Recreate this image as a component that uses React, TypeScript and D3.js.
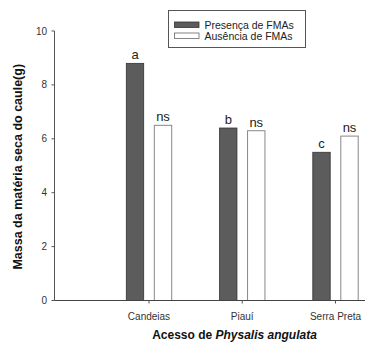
import React from "react";
import * as d3 from "d3";

const categories = ["Candeias", "Piauí", "Serra Preta"];
const presenca = [8.8, 6.4, 5.5];
const ausencia = [6.5, 6.3, 6.1];
const presencaLetters = ["a", "b", "c"];
const ausenciaLetters = ["ns", "ns", "ns"];
const yTicks = [0, 2, 4, 6, 8, 10];
const seriesNames = ["Presença de FMAs", "Ausência de FMAs"];

export default function App() {
  const W = 384, H = 343;
  const axisX = 54.5, axisY = 300.5, axisEnd = 365;
  const y = d3.scaleLinear().domain([0, 10]).range([axisY, 31]);
  const x = d3.scalePoint<string>().domain(categories).range([149, 335.5]);
  const barW = 17.4, off = 14;
  const font = "Arial, 'Liberation Sans', sans-serif";
  const dark = "#5c5c5c";
  return (
    <svg width={W} height={H} style={{ position: "absolute", left: 0, top: 0, background: "#fff" }} fontFamily={font}>
      <rect width={W} height={H} fill="#fff" />
      {/* y axis */}
      <line x1={axisX} x2={axisX} y1={y(10)} y2={axisY} stroke="#555" strokeWidth={1} />
      {yTicks.map((t) => (
        <g key={t}>
          <line x1={axisX - 3} x2={axisX} y1={y(t)} y2={y(t)} stroke="#555" />
          <text x={47} y={y(t) + 3.5} textAnchor="end" fontSize={10} fill="#333">{t}</text>
        </g>
      ))}
      {/* bars */}
      {categories.map((c, i) => {
        const cx = x(c)!;
        return (
          <g key={c}>
            <rect x={cx - off - barW / 2} y={y(presenca[i])} width={barW} height={axisY - y(presenca[i])} fill={dark} stroke="#333" strokeWidth={0.8} />
            <rect x={cx + off - barW / 2} y={y(ausencia[i])} width={barW} height={axisY - y(ausencia[i])} fill="#fff" stroke="#888" strokeWidth={1} />
            <text x={cx - off} y={y(presenca[i]) - 4} textAnchor="middle" fontSize={13} fill="#222">{presencaLetters[i]}</text>
            <text x={cx + off} y={y(ausencia[i]) - 4} textAnchor="middle" fontSize={13} fill="#222">{ausenciaLetters[i]}</text>
          </g>
        );
      })}
      {/* x axis */}
      <line x1={axisX} x2={axisEnd} y1={axisY} y2={axisY} stroke="#444" strokeWidth={1} />
      {categories.map((c) => (
        <g key={c}>
          <line x1={x(c)!} x2={x(c)!} y1={axisY} y2={axisY + 3} stroke="#555" />
          <text x={x(c)!} y={319.5} textAnchor="middle" fontSize={10} fill="#333">{c}</text>
        </g>
      ))}
      {/* axis titles */}
      <text transform={`translate(22,${y(5) + 1}) rotate(-90)`} textAnchor="middle" fontSize={12.5} fontWeight="bold" fill="#111">
        Massa da matéria seca do caule(g)
      </text>
      <text x={234.5} y={338.5} textAnchor="middle" fontSize={12} fontWeight="bold" fill="#111">
        Acesso de <tspan fontStyle="italic">Physalis angulata</tspan>
      </text>
      {/* legend */}
      <rect x={168.5} y={10.5} width={137} height={37} fill="#fff" stroke="#555" strokeWidth={1} />
      <rect x={174.5} y={22} width={24.5} height={5.5} fill={dark} stroke="#333" strokeWidth={0.8} />
      <rect x={174.5} y={33} width={24.5} height={5.5} fill="#fff" stroke="#666" strokeWidth={0.8} />
      <text x={204.5} y={28.5} fontSize={10.5} fill="#222">{seriesNames[0]}</text>
      <text x={204.5} y={39.5} fontSize={10.5} fill="#222">{seriesNames[1]}</text>
    </svg>
  );
}
